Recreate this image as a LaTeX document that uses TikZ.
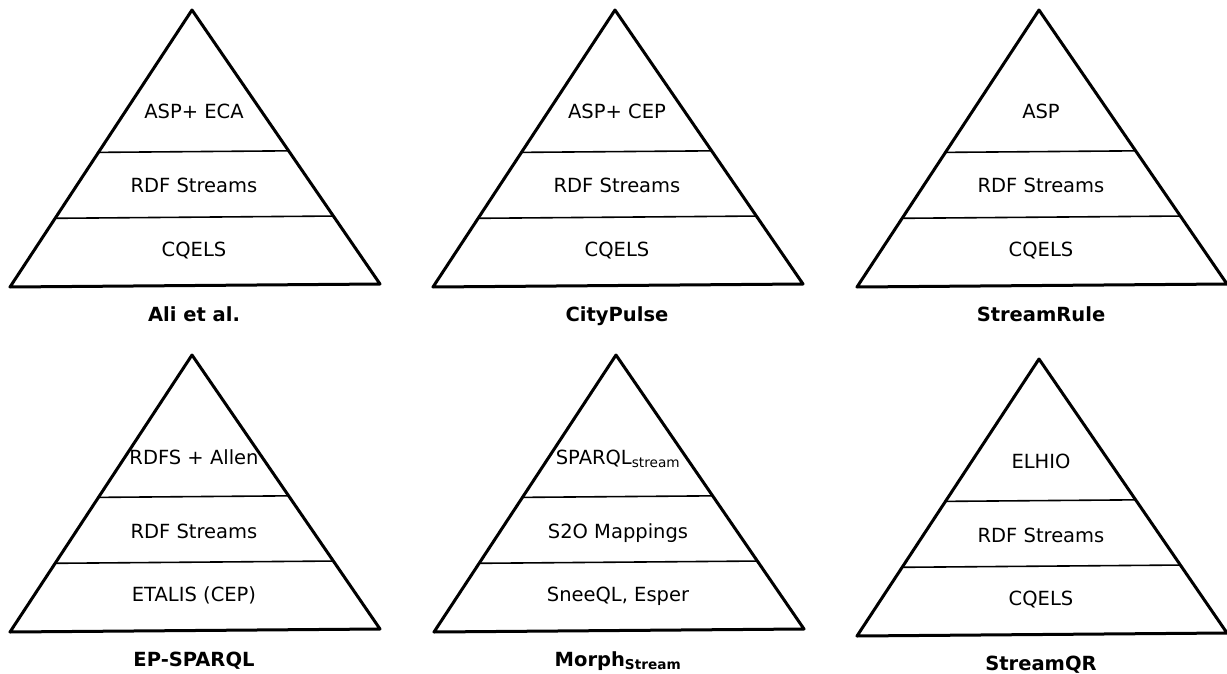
\documentclass[tikz,border=0pt]{standalone}
\usepackage{fontspec}
\setmainfont{DejaVu Sans}
\usepackage{tkz-euclide}

\begin{document}
\begin{tikzpicture}[x=1pt,y=-1pt,
		layer/.style={font=\fontsize{19.5}{23}\selectfont,anchor=base},
		caption/.style={font=\fontsize{19.5}{23}\selectfont\bfseries,anchor=base}]
		\useasboundingbox (0,0) rectangle (1227,674);
		\foreach \i/\ax/\ay/\toplayer/\midlayer/\baselayer/\system in {
			1/192/10/{ASP+ ECA}/{RDF Streams}/CQELS/{Ali et al.},
			2/615/10/{ASP+ CEP}/{RDF Streams}/CQELS/CityPulse,
			3/1039/10/ASP/{RDF Streams}/CQELS/StreamRule,
			4/192/355/{RDFS + Allen}/{RDF Streams}/{ETALIS (CEP)}/EP-SPARQL,
			5/616/355/{SPARQL\textsubscript{stream}}/{S2O Mappings}/{SneeQL, Esper}/{Morph\textsubscript{Stream}},
			6/1039/359/ELHIO/{RDF Streams}/CQELS/StreamQR}
		{
		\coordinate (A\i) at (\ax,\ay);
		\path (A\i) ++(-182,277) coordinate (B\i);
		\path (A\i) ++(188,274) coordinate (C\i);
		\coordinate (D\i) at ($(A\i)!0.514!(B\i)$);
		\coordinate (E\i) at ($(A\i)!0.514!(C\i)$);
		\coordinate (F\i) at ($(A\i)!0.752!(B\i)$);
		\coordinate (G\i) at ($(A\i)!0.752!(C\i)$);
		\tkzDrawPolygon[line width=3pt](A\i,B\i,C\i)
		\tkzDrawSegment[line width=1.6pt](D\i,E\i)
		\tkzDrawSegment[line width=1.6pt](F\i,G\i)
		\path (A\i) ++(2,109) node[layer] (top\i) {\toplayer};
		\path (A\i) ++(2,183) node[layer] (mid\i) {\midlayer};
		\path (A\i) ++(2,246) node[layer] (low\i) {\baselayer};
		\path (A\i) ++(2,311) node[caption] (name\i) {\system};
		}
		\end{tikzpicture}
\end{document}
